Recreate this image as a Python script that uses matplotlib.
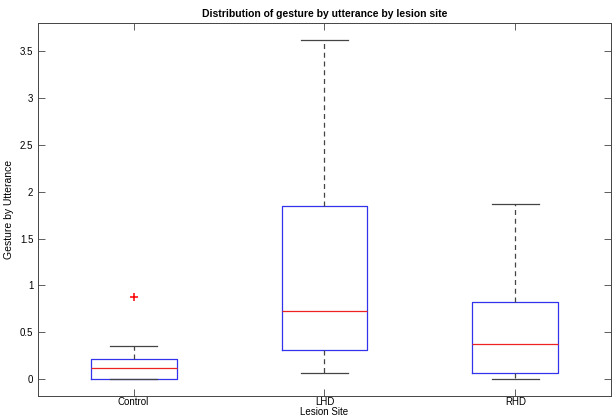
import numpy as np
import matplotlib.pyplot as plt

plt.rcParams['font.family'] = ['Liberation Sans', 'DejaVu Sans']

sites = ['Control', 'LHD', 'RHD']
whislo = [0.0, 0.068, 0.0]
q1 = [0.0, 0.314, 0.064]
med = [0.12, 0.73, 0.375]
q3 = [0.21, 1.85, 0.82]
whishi = [0.357, 3.62, 1.87]
fliers = [[0.875], [], []]

yticks = [0, 0.5, 1, 1.5, 2, 2.5, 3, 3.5]
ytick_labels = ['0', '0.5', '1', '1.5', '2', '2.5', '3', '3.5']

stats = []
for i in range(len(sites)):
    stats.append({'label': sites[i], 'whislo': whislo[i], 'q1': q1[i], 'med': med[i],
                  'q3': q3[i], 'whishi': whishi[i], 'fliers': fliers[i]})

fig = plt.figure(figsize=(6.14, 4.16), dpi=100)
ax = fig.add_axes([0.062, 0.048, 0.933, 0.897])

ax.bxp(stats, positions=[1, 2, 3], widths=0.45, showfliers=True,
       boxprops=dict(color='#3333ee', linewidth=0.9),
       medianprops=dict(color='#ee2222', linewidth=0.9),
       whiskerprops=dict(color='#444444', linestyle=(0, (4, 3)), linewidth=0.9),
       capprops=dict(color='#444444', linewidth=0.9),
       capwidths=0.25,
       flierprops=dict(marker='+', markeredgecolor='red', markersize=6, markeredgewidth=1.1))

ax.set_xlim(0.5, 3.5)
ax.set_ylim(-0.181, 3.801)
ax.set_yticks(yticks)
ax.set_yticklabels(ytick_labels)
ax.set_xticks([1, 2, 3])
ax.set_xticklabels(sites)

ax.tick_params(direction='in', length=5, width=0.6, labelsize=7, top=True, right=True,
               color='#444444')
ax.tick_params(axis='x', pad=0.5)
for s in ax.spines.values():
    s.set_linewidth(0.7)
    s.set_color('#444444')

ax.set_title('Distribution of gesture by utterance by lesion site', fontsize=7.5,
             fontweight='bold', pad=4)
ax.set_ylabel('Gesture by Utterance', fontsize=7.5)
ax.yaxis.set_label_coords(-0.042, 0.5)
ax.set_xlabel('Lesion Site', fontsize=7)
ax.xaxis.set_label_coords(0.5, -0.029)

plt.savefig('out.png', dpi=100)
